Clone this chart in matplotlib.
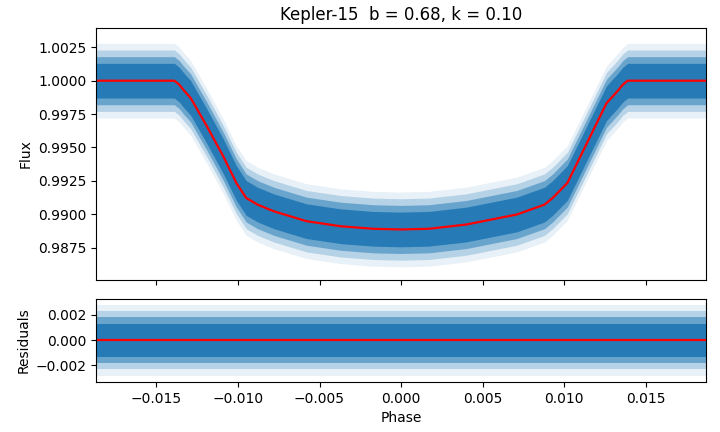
import matplotlib
matplotlib.use("Agg")
import matplotlib.pyplot as plt
from matplotlib.ticker import MultipleLocator

# Model transit curve
phase = [-0.0187, -0.0139, -0.0136, -0.0133, -0.0129, -0.0119, -0.0109,
         -0.0101, -0.0095, -0.0088, -0.0078, -0.0058, -0.0037, -0.0017,
         0.0000, 0.0017, 0.0040, 0.0071, 0.0088, 0.0093, 0.0102, 0.0116,
         0.0126, 0.0133, 0.0136, 0.0139, 0.0187]
model_flux = [1.0000, 1.0000, 0.99970, 0.99925, 0.99870, 0.99657, 0.99433,
              0.99234, 0.99122, 0.99072, 0.99022, 0.98948, 0.98910, 0.98891,
              0.98886, 0.98891, 0.98923, 0.98998, 0.99072, 0.99122, 0.99234,
              0.99582, 0.99831, 0.99925, 0.99970, 1.0000, 1.0000]
residual_zero = [0.0] * len(phase)

# Spread of the data cloud around the model (half-widths)
spread = [0.0028, 0.0023, 0.0018, 0.0013]
spread_alpha = [0.10, 0.25, 0.50, 0.90]

title = "Kepler-15  b = 0.68, k = 0.10"
blue = "#1f77b4"

fig = plt.figure(figsize=(7.2, 4.32), dpi=100)
ax1 = fig.add_axes([0.134, 0.352, 0.846, 0.583])
ax2 = fig.add_axes([0.134, 0.116, 0.846, 0.193], sharex=ax1)

for hw, a in zip(spread, spread_alpha):
    ax1.fill_between(phase, [f - hw for f in model_flux], [f + hw for f in model_flux],
                     color=blue, alpha=a, linewidth=0)
    ax2.fill_between(phase, [r - hw for r in residual_zero], [r + hw for r in residual_zero],
                     color=blue, alpha=a, linewidth=0)

ax1.plot(phase, model_flux, color="red", lw=1.6)
ax2.plot(phase, residual_zero, color="red", lw=1.6)

ax1.set_xlim(-0.01868, 0.01868)
ax1.set_ylim(0.98508, 1.00394)
ax2.set_ylim(-0.0033, 0.00328)
ax1.yaxis.set_major_locator(MultipleLocator(0.0025))
ax2.yaxis.set_major_locator(MultipleLocator(0.002))
ax1.xaxis.set_major_locator(MultipleLocator(0.005))
ax1.tick_params(labelbottom=False)

ax1.set_title(title, fontsize=12)
ax1.set_ylabel("Flux")
ax2.set_ylabel("Residuals")
ax2.set_xlabel("Phase")

fig.savefig("out.png", dpi=100)
